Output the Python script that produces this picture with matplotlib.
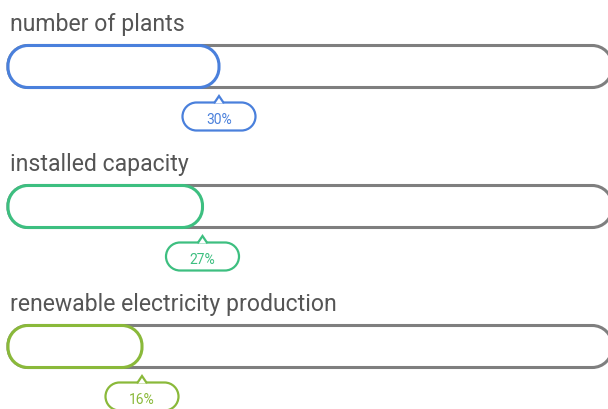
import matplotlib
matplotlib.use("Agg")
import matplotlib.pyplot as plt
from matplotlib.patches import PathPatch, Polygon
from matplotlib.path import Path

# data
labels = ["number of plants", "installed capacity", "renewable electricity production"]
values = [30, 27, 16]
colors = ["#4a80dc", "#3dbf80", "#8ab93a"]

plt.rcParams['font.family'] = ['Roboto', 'DejaVu Sans']

W, H = 608, 410
fig = plt.figure(figsize=(W / 100, H / 100), dpi=100)
ax = fig.add_axes([0, 0, 1, 1])

# x axis in percent: 0% at px 54, 100% at px 604
px_per_unit = 5.5
x0_px = 54
ax.set_xlim(-x0_px / px_per_unit, (W - x0_px) / px_per_unit)
ax.set_ylim(H, 0)
ax.axis("off")


def u(px):
    # pixel length -> x data units
    return px / px_per_unit


def rounded_rect(x, y, w, h, rx, ry):
    # rounded rectangle with circular-ish (cubic) corners, rx/ry per axis
    k = 0.5523
    verts = [
        (x + rx, y), (x + w - rx, y),
        (x + w - rx + k * rx, y), (x + w, y + ry - k * ry), (x + w, y + ry),
        (x + w, y + h - ry),
        (x + w, y + h - ry + k * ry), (x + w - rx + k * rx, y + h), (x + w - rx, y + h),
        (x + rx, y + h),
        (x + rx - k * rx, y + h), (x, y + h - ry + k * ry), (x, y + h - ry),
        (x, y + ry),
        (x, y + ry - k * ry), (x + rx - k * rx, y), (x + rx, y),
        (x + rx, y),
    ]
    codes = [Path.MOVETO, Path.LINETO,
             Path.CURVE4, Path.CURVE4, Path.CURVE4,
             Path.LINETO,
             Path.CURVE4, Path.CURVE4, Path.CURVE4,
             Path.LINETO,
             Path.CURVE4, Path.CURVE4, Path.CURVE4,
             Path.LINETO,
             Path.CURVE4, Path.CURVE4, Path.CURVE4,
             Path.CLOSEPOLY]
    return Path(verts, codes)


left = u(8 - x0_px)
row_gap = 140
bar_top = 46.5
bar_h = 42
radius = 20

for i, (lab, v, c) in enumerate(zip(labels, values, colors)):
    top = bar_top + i * row_gap
    ax.text(u(10 - x0_px), top - 15, lab, fontsize=16.6, color="#555555",
            ha="left", va="baseline")

    # outer (track) bar
    ax.add_patch(PathPatch(rounded_rect(left, top, 101.5 - left, bar_h, u(radius), radius),
                           fc="white", ec="#7f7f7f", lw=2.2))

    # value bar
    ax.add_patch(PathPatch(rounded_rect(left, top, v - left, bar_h, u(radius), radius),
                           fc="white", ec=c, lw=2.2))

    # callout under the bar end
    ct = top + bar_h + 15
    cw, ch = u(73), 28
    ax.add_patch(PathPatch(rounded_rect(v - cw / 2, ct, cw, ch, u(14), 14),
                           fc="white", ec=c, lw=1.6))
    notch = [(v - u(5), ct + 0.9), (v, ct - 6.5), (v + u(5), ct + 0.9)]
    ax.add_patch(Polygon(notch, closed=False, fc="white", ec=c, lw=1.6))
    ax.text(v, ct + ch / 2 + 2.5, "%d%%" % v, fontsize=10, color=c,
            ha="center", va="center")

fig.savefig("out.png", dpi=100)
